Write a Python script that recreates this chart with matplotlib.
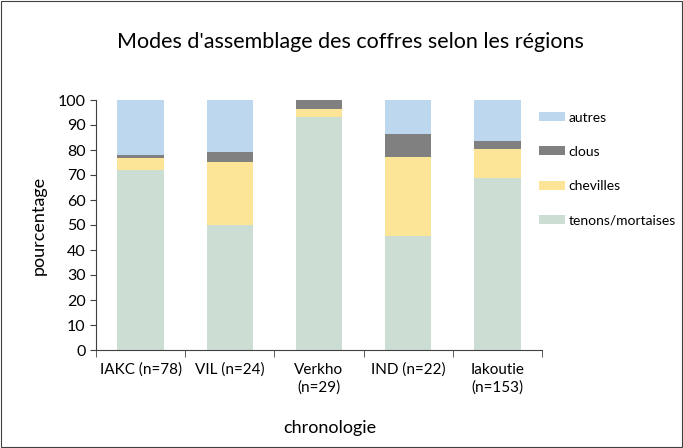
import matplotlib.pyplot as plt
import numpy as np

plt.rcParams['font.family'] = ['Lato', 'DejaVu Sans']

# Share of each joining method per region (percent)
regions = ["IAKC (n=78)", "VIL (n=24)", "Verkho\n(n=29)", "IND (n=22)", "Iakoutie\n(n=153)"]
tenons = [71.8, 50.0, 93.1, 45.5, 68.6]
chevilles = [5.1, 25.0, 3.45, 31.8, 11.8]
clous = [1.3, 4.2, 3.45, 9.1, 3.3]
autres = [21.8, 20.8, 0.0, 13.6, 16.3]

series = [
    ("tenons/mortaises", tenons, "#CCDDD3"),
    ("chevilles", chevilles, "#FCE597"),
    ("clous", clous, "#808080"),
    ("autres", autres, "#BDD7EE"),
]

fig = plt.figure(figsize=(6.83, 4.48), dpi=100)
ax = fig.add_axes([96 / 683, 1 - 350 / 448, (542 - 96) / 683, 250 / 448])

x = np.arange(len(regions))
bottom = np.zeros(len(regions))
handles = []
for name, vals, color in series:
    b = ax.bar(x, vals, width=0.52, bottom=bottom, color=color, label=name, clip_on=False)
    handles.append(b)
    bottom += np.array(vals)

ax.set_xlim(-0.5, len(regions) - 0.5)
ax.set_ylim(0, 100)
ax.set_yticks(range(0, 101, 10))
ax.set_xticks(x)
ax.set_xticklabels(regions, fontsize=11, linespacing=1.3)
ax.set_xticks(np.arange(-0.5, len(regions)), minor=True)
ax.tick_params(axis='x', which='major', length=0, pad=9)
ax.tick_params(axis='x', which='minor', length=5, direction='out', color='#404040')
ax.tick_params(axis='y', length=4, direction='out', color='#404040', labelsize=11.5)

for side in ("top", "right"):
    ax.spines[side].set_visible(False)
for side in ("left", "bottom"):
    ax.spines[side].set_color('#404040')

ax.set_ylabel("pourcentage", fontsize=13, labelpad=8)
fig.text(330 / 683, 1 - 428 / 448, "chronologie", fontsize=13, ha='center', va='center')
fig.text(350 / 683, 1 - 42 / 448, "Modes d'assemblage des coffres selon les régions",
         fontsize=15.5, ha='center', va='center')

leg = fig.legend(handles[::-1], [s[0] for s in series][::-1],
                 loc='upper left', bbox_to_anchor=(539 / 683, 1 - 111.5 / 448),
                 borderaxespad=0, borderpad=0,
                 frameon=False, fontsize=10, handlelength=1.9, handleheight=0.62,
                 labelspacing=1.6, handletextpad=0.25)

# outer chart border
fig.patches.append(plt.Rectangle((0.002, 0.002), 0.996, 0.996, transform=fig.transFigure,
                                 fill=False, edgecolor='#404040', linewidth=0.8))

fig.savefig("out.png", dpi=100)
